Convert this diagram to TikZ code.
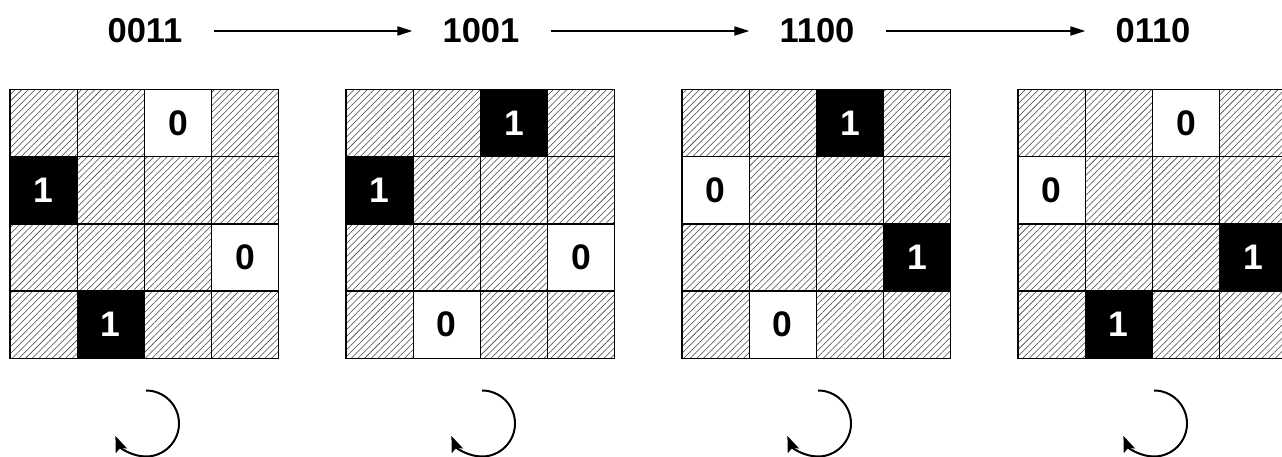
\documentclass[tikz,border=0pt]{standalone}
\usepackage{fontspec}
\setmainfont{Liberation Sans}
\usetikzlibrary{patterns.meta,arrows.meta}
\tikzset{
  cellbase/.style={draw=black,line width=1.3pt,minimum size=67.2pt,inner sep=0pt,
    font=\fontsize{35.5}{40}\selectfont\bfseries},
  hatched/.style={cellbase,pattern={Lines[angle=45,distance=4.7pt,line width=0.55pt]},pattern color=black!75},
  onecell/.style={cellbase,fill=black,text=white},
  zerocell/.style={cellbase,fill=white,text=black},
  seqlabel/.style={inner sep=0pt,font=\fontsize{34.5}{40}\selectfont\bfseries},
  steparrow/.style={line width=1.8pt,-{Triangle[length=15pt,width=9pt]}},
  rotarrow/.style={line width=2pt,-{Stealth[length=16pt,width=12pt,inset=3pt]}}
}
\begin{document}
\begin{tikzpicture}[x=1pt,y=1pt]
\useasboundingbox (0,0) rectangle (1282,457);
\clip (0,0) rectangle (1282,457);
% grids: k = 0..3, left = 10+336k, top (tikz) = 367.5
\foreach \k/\cells in {0/{0/2/zerocell/0,1/0/onecell/1,2/3/zerocell/0,3/1/onecell/1},
                       1/{0/2/onecell/1,1/0/onecell/1,2/3/zerocell/0,3/1/zerocell/0},
                       2/{0/2/onecell/1,1/0/zerocell/0,2/3/onecell/1,3/1/zerocell/0},
                       3/{0/2/zerocell/0,1/0/zerocell/0,2/3/onecell/1,3/1/onecell/1}}{
  \foreach \r in {0,...,3}{
    \foreach \c in {0,...,3}{
      \node[hatched] (g\k c\r\c) at ({10+336*\k+67.2*\c+33.6},{367.5-67.2*\r-33.6}) {};
    }
  }
  \foreach \r/\c/\sty/\val in \cells{
    \node[\sty] (v\k c\r\c) at ({10+336*\k+67.2*\c+33.6},{367.5-67.2*\r-33.6}) {\val};
  }
}
% sequence labels
\node[seqlabel] (lab0) at (145,426) {0011};
\node[seqlabel] (lab1) at (481,426) {1001};
\node[seqlabel] (lab2) at (817,426) {1100};
\node[seqlabel] (lab3) at (1153,426) {0110};
\foreach \a/\b in {0/1,1/2,2/3}{
  \draw[steparrow] ([xshift=31pt]lab\a.east) -- ([xshift=-30pt]lab\b.west);
}
% rotation arrows
\foreach \k in {0,1,2,3}{
  \coordinate (rot\k) at ({146+336*\k},33.5);
  \draw[rotarrow] (rot\k) ++(0,33) arc[start angle=90,end angle=-158,radius=33];
}
\end{tikzpicture}
\end{document}
